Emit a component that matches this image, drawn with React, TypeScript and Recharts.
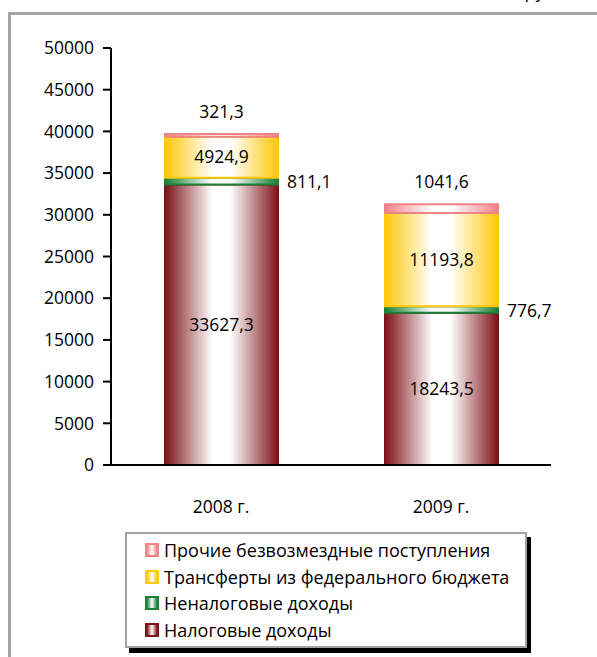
import { BarChart, Bar, XAxis, YAxis, LabelList } from "recharts";

// values, thousand rubles
const years = ["2008 г.", "2009 г."];
const taxIncome = [33627.3, 18243.5];
const nonTaxIncome = [811.1, 776.7];
const federalTransfers = [4924.9, 11193.8];
const otherGratuitous = [321.3, 1041.6];
const yTicks = [0, 5000, 10000, 15000, 20000, 25000, 30000, 35000, 40000, 45000, 50000];
const categoryEdges = [0, 1, 2];

const FONT = '"Open Sans", sans-serif';
const NUM_SIZE = 17.5;

type Series = {
    key: string;
    name: string;
    color: string;
    values: number[];
    labelAt: "center" | "right" | "above";
};

// stacked from bottom to top
const series: Series[] = [
    { key: "tax", name: "Налоговые доходы", color: "#7e1317", values: taxIncome, labelAt: "center" },
    { key: "nontax", name: "Неналоговые доходы", color: "#1a8038", values: nonTaxIncome, labelAt: "right" },
    { key: "transfers", name: "Трансферты из федерального бюджета", color: "#ffc80a", values: federalTransfers, labelAt: "center" },
    { key: "other", name: "Прочие безвозмездные поступления", color: "#f08386", values: otherGratuitous, labelAt: "above" },
];

const data = years.map((year, i) => {
    const row: Record<string, string | number> = { year };
    series.forEach(s => { row[s.key] = s.values[i]; });
    return row;
});

const fmt = (v: unknown) => {
    const n = Array.isArray(v) ? v[1] - v[0] : Number(v);
    return n.toFixed(1).replace(".", ",");
};

function SideLabel(props: any) {
    const { x, y, width, height, value } = props;
    return (
        <text x={x + width + 9} y={y + height / 2} dominantBaseline="central"
            textAnchor="start" fill="#000" fontSize={NUM_SIZE} fontFamily={FONT}>
            {fmt(value)}
        </text>
    );
}

function TopLabel(props: any) {
    const { x, y, width, value } = props;
    return (
        <text x={x + width / 2} y={y - 23} dominantBaseline="central"
            textAnchor="middle" fill="#000" fontSize={NUM_SIZE} fontFamily={FONT}>
            {fmt(value)}
        </text>
    );
}

export default function App() {
    return (
        <div style={{ position: "absolute", left: 0, top: 0, width: 597, height: 657, overflow: "hidden", background: "#fff", fontFamily: FONT }}>
            {/* title tail, cropped off at the top in the reference */}
            <div style={{ position: "absolute", right: 37, top: -21, fontSize: 18, whiteSpace: "nowrap", color: "#000" }}>
                , тыс. руб.
            </div>
            <div style={{ position: "absolute", left: 8, top: 12, width: 700, height: 700, borderLeft: "3px solid #a3a3a3", borderTop: "3px solid #a3a3a3" }} />

            <div style={{ position: "absolute", left: 0, top: 0 }}>
                <BarChart width={597} height={530} data={data} barSize={113}
                    margin={{ top: 48, right: 46, bottom: 0, left: 0 }}>
                    <defs>
                        {series.map(s => (
                            <linearGradient key={s.key} id={`grad-${s.key}`} x1="0" y1="0" x2="1" y2="0">
                                <stop offset="0%" stopColor={s.color} />
                                <stop offset="42%" stopColor="#ffffff" />
                                <stop offset="58%" stopColor="#ffffff" />
                                <stop offset="100%" stopColor={s.color} />
                            </linearGradient>
                        ))}
                    </defs>
                    {/* boundary tick marks between the categories */}
                    <XAxis xAxisId="edges" type="number" domain={[0, 2]} ticks={categoryEdges}
                        height={0} axisLine={false} tickSize={10}
                        tickLine={{ stroke: "#000", strokeWidth: 2 }} tickFormatter={() => ""} />
                    <XAxis dataKey="year" height={65} tickSize={0} tickMargin={36}
                        axisLine={{ stroke: "#000", strokeWidth: 2 }} tickLine={false}
                        tick={{ fill: "#000", fontSize: NUM_SIZE, fontFamily: FONT }} />
                    <YAxis width={111} domain={[0, 50000]} ticks={yTicks} interval={0}
                        tickSize={8} tickMargin={9}
                        axisLine={{ stroke: "#000", strokeWidth: 2 }}
                        tickLine={{ stroke: "#000", strokeWidth: 2 }}
                        tick={{ fill: "#000", fontSize: NUM_SIZE, fontFamily: FONT }} />
                    {series.map(s => (
                        <Bar key={s.key} dataKey={s.key} name={s.name} stackId="a"
                            fill={`url(#grad-${s.key})`} stroke={s.color} strokeWidth={2}
                            isAnimationActive={false}>
                            {s.labelAt === "center" && (
                                <LabelList dataKey={s.key} position="center" formatter={fmt}
                                    fill="#000" stroke="none" fontSize={NUM_SIZE} fontFamily={FONT} />
                            )}
                            {s.labelAt === "right" && <LabelList dataKey={s.key} content={SideLabel} />}
                            {s.labelAt === "above" && <LabelList dataKey={s.key} content={TopLabel} />}
                        </Bar>
                    ))}
                </BarChart>
            </div>

            {/* legend */}
            <div style={{
                position: "absolute", left: 125, top: 532, width: 402, height: 116, boxSizing: "border-box",
                border: "2px solid #a3a3a3", boxShadow: "4px 5px 0 #000", background: "#fff",
                padding: "3px 0 0 18px", fontSize: 18, color: "#000",
            }}>
                {[...series].reverse().map(s => (
                    <div key={s.key} style={{ display: "flex", alignItems: "center", height: 26.5, whiteSpace: "nowrap" }}>
                        <span style={{
                            display: "inline-block", width: 10, height: 10, border: `2px solid ${s.color}`,
                            background: `linear-gradient(to right, ${s.color}, #fff 50%, ${s.color})`, marginRight: 5,
                        }} />
                        {s.name}
                    </div>
                ))}
            </div>
        </div>
    );
}
